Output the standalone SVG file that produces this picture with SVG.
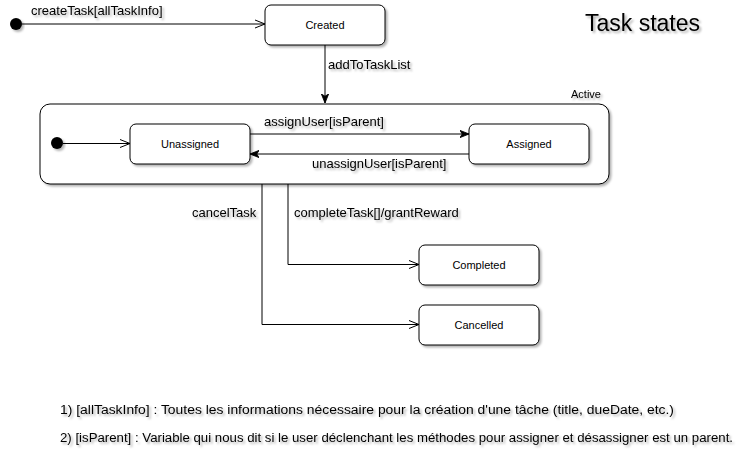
<svg xmlns="http://www.w3.org/2000/svg" width="744" height="455" viewBox="0 0 744 455">
<style>
text{font-family:"Liberation Sans",Arial,sans-serif;fill:#000}
.st{fill:#fff;stroke:#000;stroke-width:1}
.nm{font-size:11px;text-anchor:middle}
.lb{font-size:13px}
.ln{fill:none;stroke:#000;stroke-width:1}
.sh{filter:url(#sh)}
.note{font-size:12px}
</style>
<defs>
<filter id="sh" x="-10%" y="-30%" width="130%" height="180%">
<feDropShadow dx="2" dy="2" stdDeviation="1.2" flood-color="#000" flood-opacity="0.3"/>
</filter>
<marker id="open" viewBox="0 0 10 10" refX="10" refY="5" markerWidth="10" markerHeight="10" markerUnits="userSpaceOnUse" orient="auto">
<path d="M0,1 L10,5 L0,9" fill="none" stroke="#000" stroke-width="1"/>
</marker>
<marker id="fill" viewBox="0 0 10 10" refX="10" refY="5" markerWidth="9" markerHeight="9" markerUnits="userSpaceOnUse" orient="auto">
<path d="M0,1 L10,5 L0,9 L2.5,5 Z" fill="#000" stroke="#000" stroke-width="1"/>
</marker>
</defs>
<g id="title"><text x="585" y="31" font-size="23" class="sh">Task states</text></g>
<g id="active">
<rect class="st sh" x="40" y="104" width="569" height="80" rx="10"/>
<text x="571" y="98" font-size="11" class="sh">Active</text>
</g>
<g id="init1"><circle cx="16" cy="24" r="6" fill="#000" class="sh"/></g>
<g id="created"><rect class="st sh" x="265" y="5" width="120" height="40" rx="6"/><text class="nm" x="325" y="29">Created</text></g>
<g id="init2"><circle cx="57" cy="143" r="6" fill="#000" class="sh"/></g>
<g id="unassigned"><rect class="st sh" x="130" y="124" width="120" height="40" rx="6"/><text class="nm" x="190" y="148">Unassigned</text></g>
<g id="assigned"><rect class="st sh" x="469" y="124" width="120" height="40" rx="6"/><text class="nm" x="529" y="148">Assigned</text></g>
<g id="completed"><rect class="st sh" x="419" y="245" width="120" height="40" rx="6"/><text class="nm" x="479" y="269">Completed</text></g>
<g id="cancelled"><rect class="st sh" x="419" y="305" width="120" height="40" rx="6"/><text class="nm" x="479" y="329">Cancelled</text></g>
<g id="connectors">
<path class="ln" d="M22,24 H265" marker-end="url(#open)"/>
<path class="ln" d="M325,45 V103" marker-end="url(#fill)"/>
<path class="ln" d="M63,143.5 H130" marker-end="url(#open)"/>
<path class="ln" d="M250,134 H469" marker-end="url(#fill)"/>
<path class="ln" d="M469,154 H250" marker-end="url(#fill)"/>
<path class="ln" d="M288,184 V264.5 H419" marker-end="url(#open)"/>
<path class="ln" d="M262,184 V324.5 H419" marker-end="url(#open)"/>
<text class="lb sh" x="31" y="15">createTask[allTaskInfo]</text>
<text class="lb sh" x="328" y="69">addToTaskList</text>
<text class="lb sh" x="264" y="126">assignUser[isParent]</text>
<text class="lb sh" x="312" y="168">unassignUser[isParent]</text>
<text class="lb sh" x="192" y="217">cancelTask</text>
<text class="lb sh" x="294" y="217">completeTask[]/grantReward</text>
</g>
<g id="notes">
<text class="note sh" x="60" y="414" textLength="614" lengthAdjust="spacingAndGlyphs">1) [allTaskInfo] : Toutes les informations nécessaire pour la création d'une tâche (title, dueDate, etc.)</text>
<text class="note sh" x="60" y="442" textLength="673" lengthAdjust="spacingAndGlyphs">2) [isParent] : Variable qui nous dit si le user déclenchant les méthodes pour assigner et désassigner est un parent.</text>
</g>
</svg>
